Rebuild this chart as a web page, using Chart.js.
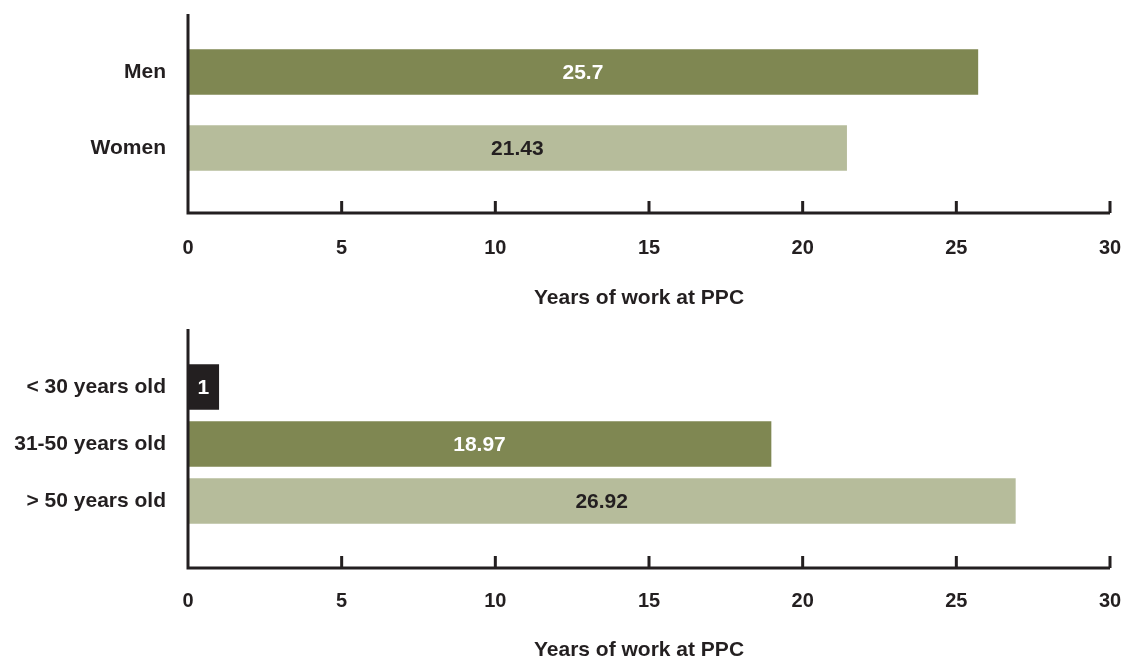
<!DOCTYPE html>
<html>
<head>
<meta charset="utf-8">
<script src="https://cdn.jsdelivr.net/npm/chart.js@4.4.0/dist/chart.umd.min.js"></script>
<style>
  html, body { margin: 0; padding: 0; background: #fff; overflow: hidden; }
  .wrap { position: absolute; left: 0; width: 1126px; height: 330px; }
  #top { top: 0; }
  #bot { top: 329px; }
</style>
</head>
<body>
<div class="wrap" id="top"><canvas id="cTop"></canvas></div>
<div class="wrap" id="bot"><canvas id="cBot"></canvas></div>
<script>
// years of work at PPC, by gender and by age group
const genderLabels = ['Men', 'Women'];
const genderYears = [25.7, 21.43];
const ageLabels = ['< 30 years old', '31-50 years old', '> 50 years old'];
const ageYears = [1, 18.97, 26.92];
const axisTitle = 'Years of work at PPC';
const xMin = 0, xMax = 30, xStep = 5;

const INK = '#231f20';
const DARK = '#7f8752';
const LIGHT = '#b6bc9b';
const FONT = "'Liberation Sans', Arial, Helvetica, sans-serif";

// L-shaped axis with small upward ticks + axis title, drawn over the bars
const frame = {
  id: 'frame',
  afterDatasetsDraw(chart, args, o) {
    const { ctx, chartArea: a, scales: { x } } = chart;
    const yAx = a.bottom + o.below;
    ctx.save();
    ctx.strokeStyle = INK;
    ctx.lineWidth = 3;
    ctx.beginPath();
    ctx.moveTo(a.left, a.top - o.above);
    ctx.lineTo(a.left, yAx);
    ctx.lineTo(a.right, yAx);
    x.ticks.forEach((t) => {
      if (t.value === xMin) return;
      const px = x.getPixelForValue(t.value);
      ctx.moveTo(px, yAx);
      ctx.lineTo(px, yAx - 12);
    });
    ctx.stroke();
    ctx.font = `bold 21px ${FONT}`;
    ctx.fillStyle = INK;
    ctx.textAlign = 'center';
    ctx.textBaseline = 'middle';
    ctx.fillText(o.title, (a.left + a.right) / 2 - 10, a.bottom + o.titleDy);
    ctx.restore();
  }
};

// value printed in the middle of each bar
const values = {
  id: 'values',
  afterDatasetsDraw(chart, args, o) {
    const { ctx } = chart;
    chart.data.datasets.forEach((ds, i) => {
      chart.getDatasetMeta(i).data.forEach((bar, j) => {
        ctx.save();
        ctx.font = `bold 21px ${FONT}`;
        ctx.fillStyle = o.colors[j];
        ctx.textAlign = 'center';
        ctx.textBaseline = 'middle';
        ctx.fillText(String(ds.data[j]), (bar.base + bar.x) / 2, bar.y + 1);
        ctx.restore();
      });
    });
  }
};

function makeChart(id, labels, data, barColors, textColors, lay) {
  return new Chart(document.getElementById(id), {
    type: 'bar',
    data: {
      labels,
      datasets: [{ data, backgroundColor: barColors, borderWidth: 0, barThickness: 45 }]
    },
    plugins: [frame, values],
    options: {
      indexAxis: 'y',
      responsive: true,
      maintainAspectRatio: false,
      animation: false,
      layout: { padding: { top: lay.top, bottom: 0, left: 0, right: 16 } },
      plugins: {
        legend: { display: false },
        tooltip: { enabled: false },
        frame: { above: lay.above, below: lay.below, title: axisTitle, titleDy: lay.titleDy },
        values: { colors: textColors }
      },
      scales: {
        x: {
          min: xMin, max: xMax,
          grid: { display: false, drawTicks: false },
          border: { display: false },
          afterFit: (s) => { s.height = lay.scaleH; s.paddingLeft = 0; s.paddingRight = 0; },
          ticks: { stepSize: xStep, padding: lay.tickPad, color: INK, font: { family: FONT, size: 20, weight: 'bold' } }
        },
        y: {
          grid: { display: false, drawTicks: false },
          border: { display: false },
          afterFit: (s) => { s.width = 188; s.paddingTop = 0; s.paddingBottom = 0; },
          ticks: { padding: 22, color: INK, font: { family: FONT, size: 21, weight: 'bold' } }
        }
      }
    }
  });
}

makeChart('cTop', genderLabels, genderYears, [DARK, LIGHT], ['#ffffff', INK],
  { top: 34, scaleH: 144, above: 20, below: 27, tickPad: 50.5, titleDy: 112 });
makeChart('cBot', ageLabels, ageYears, [INK, DARK, LIGHT], ['#ffffff', '#ffffff', INK],
  { top: 29.5, scaleH: 129.5, above: 30, below: 38.5, tickPad: 60, titleDy: 120.5 });
</script>
</body>
</html>
